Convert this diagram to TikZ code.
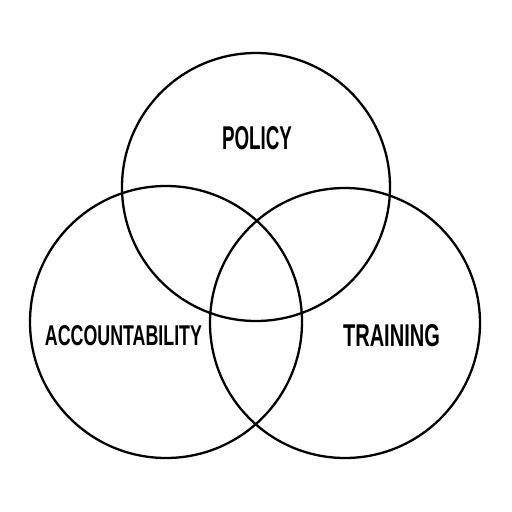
\documentclass[tikz,border=0pt]{standalone}
\usepackage{fontspec}
\setmainfont{Liberation Sans}
\usepackage{graphicx}
\begin{document}
\begin{tikzpicture}[x=1pt,y=-1pt,
  ring/.style={draw=black,line width=2.3pt},
  lbl/.style={inner sep=0pt,font=\bfseries}]
\useasboundingbox (0,0) rectangle (512,512);
\fill[white] (0,0) rectangle (512,512);
\draw[ring] (256,187) circle[radius=134];
\draw[ring] (166,322) circle[radius=136];
\draw[ring] (345,323) circle[radius=135];
\node[lbl] (policy) at (257,138.5) {\resizebox{70pt}{23pt}{POLICY}};
\node[lbl] (acc) at (123.5,336) {\resizebox{157pt}{20pt}{ACCOUNTABILITY}};
\node[lbl] (train) at (391.5,336) {\resizebox{97pt}{22pt}{TRAINING}};
\end{tikzpicture}
\end{document}
